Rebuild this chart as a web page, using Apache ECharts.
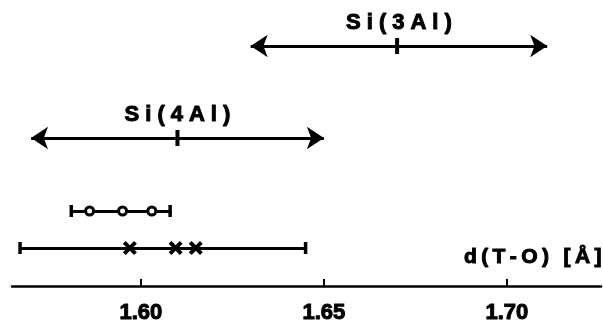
<!DOCTYPE html>
<html>
<head>
<meta charset="utf-8">
<script src="https://cdn.jsdelivr.net/npm/echarts@6/dist/echarts.min.js"></script>
<style>
html,body{margin:0;padding:0;background:#fff;}
#chart{width:603px;height:326px;}
</style>
</head>
<body>
<div id="chart"></div>
<script>
// ---- data ----
const rangeNames = ['Si(3Al)', 'Si(4Al)'];
const rangeMin = [1.630, 1.570];
const rangeMax = [1.711, 1.650];
const rangeMid = [1.670, 1.610];
const circleRange = [1.581, 1.608];
const circleValues = [1.586, 1.595, 1.603];
const crossRange = [1.567, 1.645];
const crossValues = [1.597, 1.6095, 1.615];
const majorTickValues = [1.60, 1.65, 1.70];
const minorTickValues = [1.57, 1.58, 1.59, 1.60, 1.61, 1.62, 1.63, 1.64, 1.65, 1.66, 1.67, 1.68, 1.69, 1.70, 1.71, 1.72];
const axisTitle = 'd(T-O) [Å]';

// ---- layout (row heights on a hidden helper axis) ----
const rowLevel = [46, 138];
const circleLevel = 211;
const crossLevel = 248;
const FONT = '"Liberation Sans", Arial, sans-serif';

function spaced(str) {
  return Array.from(str).map(c => '{c|' + (c === ' ' ? '\u00a0' : c) + '}').join('');
}

const chart = echarts.init(document.getElementById('chart'), null, {renderer: 'canvas'});

const arrowData = rangeNames.map((n, i) => ({
  name: n,
  coords: [[rangeMin[i], rowLevel[i]], [rangeMax[i], rowLevel[i]]]
}));

const option = {
  animation: false,
  backgroundColor: '#fff',
  grid: {left: 12, right: 2, top: 0, bottom: 40, containLabel: false},
  xAxis: [{
    type: 'value',
    min: 1.5648,
    max: 1.7257,
    splitLine: {show: false},
    axisLine: {show: true, onZero: false, lineStyle: {color: '#000', width: 2.5}},
    axisTick: {show: true, inside: true, length: 7, lineStyle: {color: '#000', width: 2}, customValues: majorTickValues},
    axisLabel: {
      show: true, customValues: majorTickValues, margin: 16,
      formatter: v => Number(v).toFixed(2),
      color: '#000', fontSize: 22, fontWeight: 'bold', fontFamily: FONT,
      textBorderColor: '#000', textBorderWidth: 1
    }
  }, {
    type: 'value',
    position: 'bottom',
    min: 1.5648,
    max: 1.7257,
    splitLine: {show: false},
    axisLine: {show: false},
    axisTick: {show: true, inside: true, length: 3, lineStyle: {color: '#000', width: 2.5}, customValues: minorTickValues},
    axisLabel: {show: false}
  }],
  yAxis: {type: 'value', min: 0, max: 286, inverse: true, show: false},
  graphic: [{
    type: 'text',
    right: 1,
    top: 246,
    style: {
      text: spaced(axisTitle),
      fill: '#000',
      font: 'bold 21px ' + FONT,
      rich: {c: {fontSize: 21, fontWeight: 'bold', fontFamily: FONT, padding: [0, 2.2], fill: '#000', stroke: '#000', lineWidth: 1}}
    }
  }],
  series: [
    {
      type: 'lines', coordinateSystem: 'cartesian2d', xAxisIndex: 0, yAxisIndex: 0,
      symbol: ['arrow', 'arrow'], symbolSize: 17,
      lineStyle: {color: '#000', width: 3.2, opacity: 1},
      label: {
        show: true, position: 'insideMiddleTop', distance: 12,
        formatter: p => spaced(p.name),
        rich: {c: {fontSize: 22, fontWeight: 'bold', fontFamily: FONT, color: '#000', padding: [0, 3], textBorderColor: '#000', textBorderWidth: 1}}
      },
      emphasis: {disabled: true},
      data: arrowData, z: 2
    },
    {
      type: 'scatter', symbol: 'rect', symbolSize: [4, 16],
      itemStyle: {color: '#000', opacity: 1},
      emphasis: {disabled: true},
      data: rangeMid.map((v, i) => [v, rowLevel[i]]), z: 3
    },
    {
      type: 'lines', coordinateSystem: 'cartesian2d', symbol: 'none',
      lineStyle: {color: '#000', width: 3, opacity: 1},
      emphasis: {disabled: true},
      data: [
        {coords: [[circleRange[0], circleLevel], [circleRange[1], circleLevel]]},
        {coords: [[crossRange[0], crossLevel], [crossRange[1], crossLevel]]}
      ], z: 2
    },
    {
      type: 'scatter', symbol: 'rect', symbolSize: [3.5, 12],
      itemStyle: {color: '#000', opacity: 1},
      emphasis: {disabled: true},
      data: circleRange.map(v => [v, circleLevel]).concat(crossRange.map(v => [v, crossLevel])), z: 3
    },
    {
      type: 'scatter', symbol: 'circle', symbolSize: 8,
      itemStyle: {color: '#fff', borderColor: '#000', borderWidth: 3, opacity: 1},
      emphasis: {disabled: true},
      data: circleValues.map(v => [v, circleLevel]), z: 4
    },
    {
      type: 'scatter',
      symbol: 'path://M0,2 L2,0 L5,3 L8,0 L10,2 L7,5 L10,8 L8,10 L5,7 L2,10 L0,8 L3,5 Z',
      symbolSize: 14,
      itemStyle: {color: '#000', opacity: 1},
      emphasis: {disabled: true},
      data: crossValues.map(v => [v, crossLevel]), z: 4
    }
  ]
};
chart.setOption(option);
</script>
</body>
</html>
